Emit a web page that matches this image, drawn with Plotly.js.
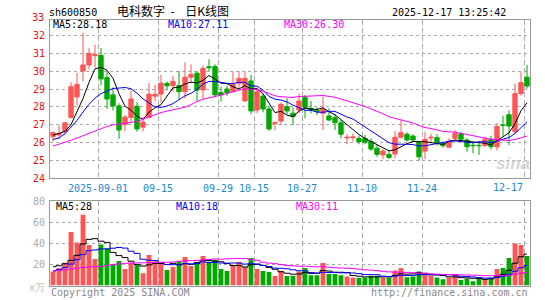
<!DOCTYPE html>
<html><head><meta charset="utf-8">
<script src="https://cdn.plot.ly/plotly-3.0.1.min.js"></script>
<style>html,body{margin:0;padding:0;background:#fff}#chart{width:545px;height:300px}</style>
</head><body><div id="chart"></div>
<script>
const dateLabels = ['2025-09-01','09-15','09-29','10-15','10-27','11-10','11-24','12-17'];
const dateIndex = [8,18,28,34,42,52,62,79];
const priceTicks = [24,25,26,27,28,29,30,31,32];
const volTicks = [20,40,60,80];

const open = [26.33,26.42,26.6,27.4,28.55,30.01,30.35,30.87,30.88,29.64,
28.67,28.05,27.0,27.39,28.03,26.86,27.4,28.6,28.72,29.32,
29.19,29.2,28.84,29.66,29.89,28.95,30.25,30.26,28.8,29.0,
28.85,29.32,28.33,29.45,27.82,28.6,27.88,27.07,27.2,28.01,
27.64,27.82,28.54,27.92,27.82,27.64,27.49,27.39,27.11,26.25,
26.27,26.23,26.23,26.05,25.67,25.3,25.33,25.35,26.29,26.46,
26.36,25.99,25.52,26.25,26.27,25.95,25.73,26.23,26.48,26.14,
25.84,25.84,25.82,26.18,25.75,26.98,27.56,26.6,28.74,29.66];
const high = [26.62,26.95,27.15,29.38,29.9,32.15,31.3,31.48,31.3,29.98,
29.08,28.2,27.54,28.9,28.26,27.45,29.33,29.23,29.8,29.42,
29.75,30.0,30.5,30.38,30.0,30.31,30.67,30.39,29.13,29.19,
29.98,30.0,29.98,29.79,29.04,28.76,28.07,27.17,28.25,28.48,
27.96,28.76,28.67,28.33,27.97,28.57,27.92,27.58,27.26,26.46,
26.51,26.38,26.42,26.23,25.86,25.63,25.58,26.64,27.26,26.57,
26.46,26.05,26.6,26.5,26.46,26.05,26.23,26.7,26.6,26.23,
26.05,26.05,26.33,26.38,27.09,27.5,27.8,29.3,29.96,30.34];
const low = [26.05,26.2,26.45,27.35,28.1,29.42,30.1,30.2,29.2,27.88,
27.8,26.2,26.63,27.07,26.6,26.62,27.38,28.3,28.24,28.92,
28.85,28.4,28.45,29.32,28.33,28.44,29.98,28.52,28.29,28.61,
28.85,28.98,28.29,27.58,27.64,27.69,26.64,26.7,26.98,27.58,
26.98,27.64,27.36,27.64,27.54,26.7,27.2,26.7,26.23,25.9,
26.05,25.9,25.9,25.52,25.2,25.05,25.07,25.1,26.23,26.05,
26.08,24.98,25.07,26.0,25.82,25.7,25.7,26.14,26.05,25.48,
25.39,25.3,25.76,25.6,25.55,26.35,25.85,26.5,28.64,29.02];
const close = [26.55,26.5,27.1,29.13,29.26,30.35,31.0,30.92,29.57,28.44,
28.05,26.7,27.42,28.44,26.76,27.14,28.71,28.7,29.33,29.18,
29.42,28.85,29.66,29.82,28.94,30.16,30.2,28.67,28.67,28.8,
29.27,29.6,29.6,27.77,28.85,27.88,26.76,27.12,28.14,27.77,
27.45,28.33,27.97,27.82,27.73,27.86,27.26,27.11,26.46,26.29,
26.31,26.05,26.01,25.63,25.33,25.52,25.16,26.29,26.55,26.14,
26.14,25.2,26.18,26.29,25.95,25.82,26.08,26.51,26.18,25.76,
25.82,25.82,26.18,25.76,26.9,26.96,26.92,28.74,29.36,29.17];
const volume = [13.3,16.5,21.6,50.7,40.6,67.0,38.4,25.0,38.7,35.0,
19.7,23.2,15.6,21.6,19.7,11.7,28.9,22.9,21.0,14.6,
17.5,22.9,27.0,18.4,22.2,27.9,22.5,24.1,15.6,13.7,
18.7,22.2,17.5,26.0,15.6,13.7,12.7,8.9,14.0,8.9,
9.2,13.3,16.5,9.8,9.8,21.3,10.8,10.8,9.8,8.6,
7.6,7.3,7.6,9.2,9.2,7.6,7.6,14.3,16.5,7.9,
8.6,13.3,11.1,8.9,7.6,6.0,7.6,10.8,5.1,6.7,
4.1,7.0,6.3,7.6,15.6,16.5,26.0,39.7,38.4,27.9];

// leading moving-average values (window reaches before the visible range)
const ma5Head = [26.4,26.49,26.62,27.0];
const ma10Head = [26.17,26.25,26.49,26.87,27.24,27.71,28.14,28.49,28.74];
const ma30Head = [25.80,25.90,26.00,26.12,26.25,26.38,26.52,26.66,26.78,26.90,26.98,27.02,27.06,27.11,27.18,27.30,27.44,27.56,27.68,27.76,27.83,27.90,27.98,28.12,28.30,28.43,28.50,28.56,28.66];
const volMa5Head = [17.8,18.7,20.6,23.8];
const volMa10Head = [14.0,14.9,17.1,20.3,24.4,29.2,33.0,33.7,34.6];
const volMa30Head = [13.5,14.2,14.9,15.6,16.5,17.1,17.5,17.9,18.1,18.8,19.8,20.5,21.0,21.3,21.4,21.5,21.6,21.7,21.8,21.9,22.3,22.9,23.3,23.5,23.7,24.1,24.6,25.0,24.9];

function movingAvg(arr, n, head){
  return arr.map((_, i) => i < n - 1 ? head[i] : arr.slice(i - n + 1, i + 1).reduce((a, b) => a + b, 0) / n);
}
const idx = close.map((_, i) => i);
const RED = '#ff5555', GREEN = '#00a800';
const MONO = 'DejaVu Sans Mono';
const W = 545, H = 300;
const px = x => x / W, py = y => 1 - y / H;

const traces = [
  {type:'candlestick', x: idx, open, high, low, close, xaxis:'x', yaxis:'y',
   increasing:{line:{color:RED, width:1}, fillcolor:RED},
   decreasing:{line:{color:GREEN, width:1}, fillcolor:GREEN},
   whiskerwidth:0, hoverinfo:'skip', showlegend:false},
  {type:'scatter', mode:'lines', x: idx, y: movingAvg(close,5,ma5Head), line:{color:'#000000', width:1}, xaxis:'x', yaxis:'y', hoverinfo:'skip', showlegend:false},
  {type:'scatter', mode:'lines', x: idx, y: movingAvg(close,10,ma10Head), line:{color:'#0000ff', width:1}, xaxis:'x', yaxis:'y', hoverinfo:'skip', showlegend:false},
  {type:'scatter', mode:'lines', x: idx, y: movingAvg(close,30,ma30Head), line:{color:'#ff00ff', width:1}, xaxis:'x', yaxis:'y', hoverinfo:'skip', showlegend:false},
  {type:'bar', x: idx, y: volume, width: 0.8, xaxis:'x2', yaxis:'y2',
   marker:{color: close.map((c, i) => c >= open[i] ? RED : GREEN), line:{width:0}}, hoverinfo:'skip', showlegend:false},
  {type:'scatter', mode:'lines', x: idx, y: movingAvg(volume,5,volMa5Head), line:{color:'#000000', width:1, shape:'hvh'}, xaxis:'x2', yaxis:'y2', hoverinfo:'skip', showlegend:false},
  {type:'scatter', mode:'lines', x: idx, y: movingAvg(volume,10,volMa10Head), line:{color:'#0000ff', width:1, shape:'hvh'}, xaxis:'x2', yaxis:'y2', hoverinfo:'skip', showlegend:false},
  {type:'scatter', mode:'lines', x: idx, y: movingAvg(volume,30,volMa30Head), line:{color:'#ff00ff', width:1, shape:'hvh'}, xaxis:'x2', yaxis:'y2', hoverinfo:'skip', showlegend:false}
];

// the last date label sits left of its gridline in the reference, so it is drawn as an annotation
const lastLabel = dateLabels[dateLabels.length - 1];
const tickText = dateLabels.map((t, k) => k === dateLabels.length - 1 ? '' : t);

const gridX = {showgrid:true, gridcolor:'#aaaaaa', griddash:'5px,3px', gridwidth:1,
  showline:true, mirror:true, linecolor:'#999999', linewidth:1, ticks:'', zeroline:false,
  range:[-0.5, 79.5], domain:[px(50), px(530)], tickvals: dateIndex.map(i => i - 0.5), ticktext: tickText, fixedrange:true};

function ann(text, x, y, color, size, xanchor, family){
  return {text, x: px(x), y: py(y), xref:'paper', yref:'paper', showarrow:false,
    xanchor: xanchor || 'left', yanchor:'middle', font:{family: family || MONO, size: size || 10, color}};
}

const layout = {
  width: W, height: H, margin:{l:0, r:0, t:0, b:0},
  paper_bgcolor:'#ffffff', plot_bgcolor:'#ffffff',
  boxgap: 0.2, boxgroupgap: 0.1, bargap: 0.2,
  xaxis: Object.assign({}, gridX, {anchor:'y', rangeslider:{visible:false},
    tickfont:{family:MONO, size:10, color:'#1b87d1'}, ticklabelstandoff:1}),
  xaxis2: Object.assign({}, gridX, {anchor:'y2', showticklabels:false}),
  yaxis: {domain:[py(178.1), py(19.7)], range:[24, 32.89], tickvals: priceTicks, ticktext: priceTicks.map(String),
    tickfont:{family:MONO, size:10, color:'#ee1111'}, showgrid:true, gridcolor:'#aaaaaa', griddash:'dot',
    showline:true, mirror:true, linecolor:'#999999', linewidth:1, ticks:'', zeroline:false, fixedrange:true, ticklabelstandoff:2},
  yaxis2: {domain:[py(285.5), py(201)], range:[0, 80], tickvals: volTicks, ticktext: volTicks.map(String),
    tickfont:{family:MONO, size:10, color:'#aaaaaa'}, showgrid:true, gridcolor:'#aaaaaa', griddash:'dot',
    showline:true, mirror:true, linecolor:'#999999', linewidth:1, ticks:'', zeroline:false, fixedrange:true, ticklabelstandoff:2, anchor:'x2'},
  annotations: [
    ann('sh600850', 47, 12, '#000000', 10),
    ann('电科数字&nbsp;&nbsp;-&nbsp;&nbsp;&nbsp;&nbsp;日K线图', 115, 11, '#000000', 12, 'left', 'Noto Sans CJK SC'),
    ann('2025-12-17 13:25:42', 508, 12, '#000000', 10, 'right'),
    ann('33', 46, 17.5, '#ee1111', 10, 'right'),
    ann(lastLabel, 508, 187, '#1b87d1', 10, 'center'),
    ann('MA5:28.18', 51, 24.5, '#000000', 10),
    ann('MA10:27.11', 166, 24.5, '#0000ff', 10),
    ann('MA30:26.30', 282, 24.5, '#ff00ff', 10),
    ann('MA5:28', 54, 207, '#000000', 10),
    ann('MA10:18', 174, 207, '#0000ff', 10),
    ann('MA30:11', 294, 207, '#ff00ff', 10),
    ann('x万', 27, 287, '#bbbbbb', 10),
    ann('Copyright 2025 SINA.COM', 49, 292.5, '#888888', 10),
    ann('http://finance.sina.com.cn', 530, 292.5, '#888888', 10, 'right'),
    {text:'<b><i>sina</i></b>', x: px(513), y: py(163), xref:'paper', yref:'paper', showarrow:false,
     xanchor:'center', yanchor:'middle', font:{family:'Liberation Sans', size:17, color:'rgba(200,200,200,0.75)'}}
  ]
};

Plotly.newPlot('chart', traces, layout, {staticPlot:true, displayModeBar:false});
</script></body></html>
